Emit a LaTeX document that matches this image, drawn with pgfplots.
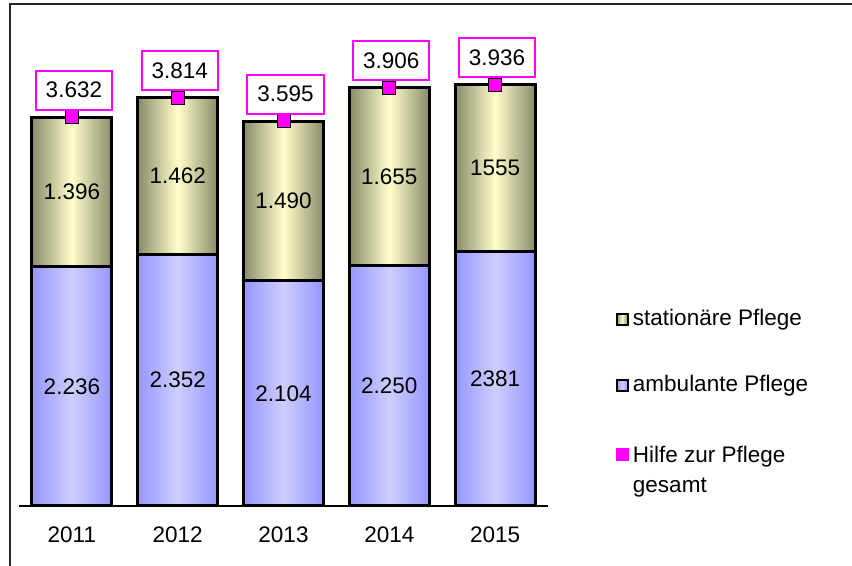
\documentclass[border=0pt]{standalone}
\usepackage{pgfplots}
\pgfplotsset{compat=1.18}
\usepackage{fontspec}
\setmainfont{Liberation Sans}
\definecolor{ambE}{RGB}{150,150,255}
\definecolor{ambC}{RGB}{206,206,255}
\definecolor{staE}{RGB}{138,138,106}
\definecolor{staC}{RGB}{255,255,204}
\definecolor{mag}{RGB}{255,0,255}
\begin{document}
\begin{tikzpicture}[font=\fontsize{11.25}{15}\selectfont]
\useasboundingbox (0,0) rectangle (426pt,283pt);
\draw[line width=1pt, black!85] (4.85pt,-5pt) -- (4.85pt,281pt) -- (440pt,281pt);
\pgfplotsset{
  common/.style={
    at={(9.5pt,30pt)}, anchor=south west,
    scale only axis, width=264.5pt, height=235.6pt,
    xmin=-0.5, xmax=4.5, ymin=0, ymax=4400,
  },
  stabar/.style={ybar, bar width=40pt, bar shift=0pt, draw=black, line width=1.5pt,
    left color=staE, right color=staE, middle color=staC, forget plot},
  ambbar/.style={ybar, bar width=40pt, bar shift=0pt, draw=black, line width=1.5pt,
    left color=ambE, right color=ambE, middle color=ambC, forget plot},
}
\begin{axis}[common,
  axis x line*=bottom, axis y line=none,
  x axis line style={-, line width=1.25pt},
  xtick={0,1,2,3,4},
  xticklabels={2011,2012,2013,2014,2015},
  major tick length=0pt,
  xticklabel style={yshift=-6.75pt},
  /pgf/number format/assume math mode=true,
  legend style={at={(1.127,0.4266)}, anchor=north west, draw=none, fill=none,
    row sep=19.5pt, inner sep=0pt, font=\fontsize{11.25}{15}\selectfont},
  legend cell align=left,
]
% upper segments (stationaere Pflege): drawn from 0 up to the total, then covered by the lower segment
\addplot[stabar] coordinates {(0,3632)};
\addplot[stabar] coordinates {(1,3814)};
\addplot[stabar] coordinates {(2,3594)};
\addplot[stabar] coordinates {(3,3905)};
\addplot[stabar] coordinates {(4,3936)};
% lower segments (ambulante Pflege)
\addplot[ambbar] coordinates {(0,2236)};
\addplot[ambbar] coordinates {(1,2352)};
\addplot[ambbar] coordinates {(2,2104)};
\addplot[ambbar] coordinates {(3,2250)};
\addplot[ambbar] coordinates {(4,2381)};
\addlegendimage{legend image code/.code={\draw[draw=black, line width=1pt, left color=staE, right color=staE, middle color=staC] (0pt,-2.75pt) rectangle (5.5pt,2.75pt);}}
\addlegendentry{stationäre Pflege}
\addlegendimage{legend image code/.code={\draw[draw=black, line width=1pt, left color=ambE, right color=ambE, middle color=ambC] (0pt,-2.75pt) rectangle (5.5pt,2.75pt);}}
\addlegendentry{ambulante Pflege}
\addlegendimage{legend image code/.code={\fill[mag] (0pt,-3pt) rectangle (6pt,3pt);}}
\addlegendentry{\begin{tabular}[t]{@{}l@{}}Hilfe zur Pflege\\gesamt\end{tabular}}
\end{axis}
\begin{axis}[common, hide axis, clip=false]
% segment labels (midpoints of the stacked segments)
\addplot[draw=none, mark=none, point meta=explicit symbolic, nodes near coords,
  every node near coord/.style={anchor=center, text=black}]
  coordinates {(0,1118)[2.236] (1,1176)[2.352] (2,1052)[2.104] (3,1125)[2.250] (4,1190.5)[2381]};
\addplot[draw=none, mark=none, point meta=explicit symbolic, nodes near coords,
  every node near coord/.style={anchor=center, text=black}]
  coordinates {(0,2934)[1.396] (1,3083)[1.462] (2,2849)[1.490] (3,3077.5)[1.655] (4,3158.5)[1555]};
% totals
\addplot[only marks, mark=square*, mark size=3.25pt, mark options={draw=none, fill=mag},
  point meta=explicit symbolic, nodes near coords,
  every node near coord/.style={anchor=south, yshift=3.25pt, xshift=1pt, draw=mag, line width=1pt,
    fill=white, text=black, inner xsep=5pt, inner ysep=5.75pt}]
  coordinates {(0,3632)[3.632] (1,3814)[3.814] (2,3595)[3.595] (3,3906)[3.906] (4,3936)[3.936]};
\end{axis}
\end{tikzpicture}
\end{document}
